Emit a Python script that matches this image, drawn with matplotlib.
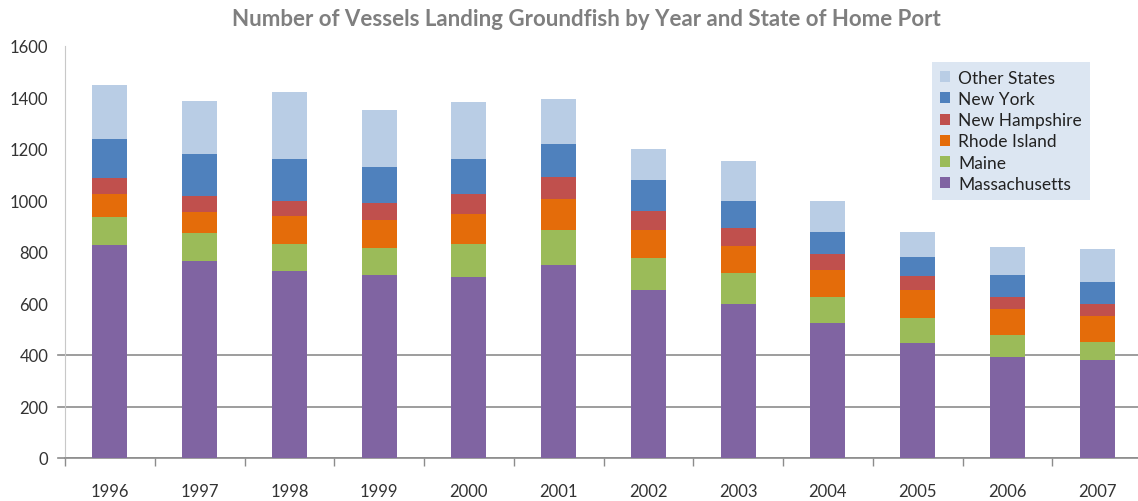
import matplotlib
matplotlib.use("Agg")
import matplotlib.pyplot as plt
import numpy as np

# data
years = ["1996", "1997", "1998", "1999", "2000", "2001",
         "2002", "2003", "2004", "2005", "2006", "2007"]
massachusetts = [826, 765, 725, 712, 704, 751, 652, 599, 525, 445, 391, 379]
maine = [111, 107, 106, 105, 127, 133, 126, 119, 100, 100, 86, 72]
rhode_island = [88, 85, 108, 108, 115, 121, 106, 107, 105, 106, 101, 100]
new_hampshire = [62, 62, 59, 67, 80, 87, 74, 67, 61, 55, 47, 48]
new_york = [153, 160, 163, 140, 135, 127, 121, 108, 88, 73, 86, 86]
other_states = [207, 206, 259, 221, 220, 174, 121, 152, 119, 100, 107, 127]

series = [
    ("Massachusetts", massachusetts, "#8064a2"),
    ("Maine", maine, "#9bbb59"),
    ("Rhode Island", rhode_island, "#e46c0a"),
    ("New Hampshire", new_hampshire, "#c0504d"),
    ("New York", new_york, "#4f81bd"),
    ("Other States", other_states, "#b9cde5"),
]

plt.rcParams["font.family"] = ["Lato", "DejaVu Sans"]

fig = plt.figure(figsize=(11.38, 5.02), dpi=100)
ax = fig.add_axes([65 / 1138, 43 / 502, 1077 / 1138, 412 / 502])

x = np.arange(len(years))
bottom = np.zeros(len(years))
handles = []
for name, vals, color in series:
    b = ax.bar(x, vals, width=0.39, bottom=bottom, color=color, label=name,
               edgecolor="none", zorder=3)
    handles.append(b)
    bottom += np.array(vals)

ax.set_xlim(-0.5, len(years) - 0.5)
ax.set_ylim(0, 1600)
ax.set_yticks(range(0, 1601, 200))
ax.tick_params(axis="y", length=0, labelsize=12, labelcolor="#333333", pad=12)

# gridlines only at the lower values, as in the reference
for yv in [0, 200, 400]:
    ax.axhline(yv, color="#8c8c8c", lw=1.2, zorder=1)
    ax.plot([-0.58, -0.5], [yv, yv], color="#8c8c8c", lw=1.2, clip_on=False)

ax.set_xticks(x)
ax.set_xticklabels(years)
ax.set_xticks(np.arange(-0.5, len(years)), minor=True)
ax.tick_params(axis="x", which="major", length=0, labelsize=12,
               labelcolor="#333333", pad=18)
ax.tick_params(axis="x", which="minor", length=6, color="#8c8c8c", width=1)

for s in ["top", "right"]:
    ax.spines[s].set_visible(False)
ax.spines["left"].set_color("#c8c8c8")
ax.spines["bottom"].set_color("#8c8c8c")
ax.spines["bottom"].set_linewidth(1.2)

fig.text(586 / 1138, 1 - 19 / 502,
         "Number of Vessels Landing Groundfish by Year and State of Home Port",
         ha="center", va="center", fontsize=16, fontweight="bold",
         color="#7f7f7f")

leg = ax.legend(handles[::-1], [s[0] for s in series][::-1],
                loc="upper left", bbox_to_anchor=(932 / 1138, 1 - 63 / 502),
                bbox_transform=fig.transFigure, frameon=True, fancybox=False,
                facecolor="#dce6f2", edgecolor="none", framealpha=1,
                fontsize=12.5, handlelength=0.6, handleheight=0.6,
                handletextpad=0.45, labelspacing=0.3, borderpad=0.45,
                borderaxespad=0)
for t in leg.get_texts():
    t.set_color("#222222")

fig.savefig("out.png", dpi=100)
